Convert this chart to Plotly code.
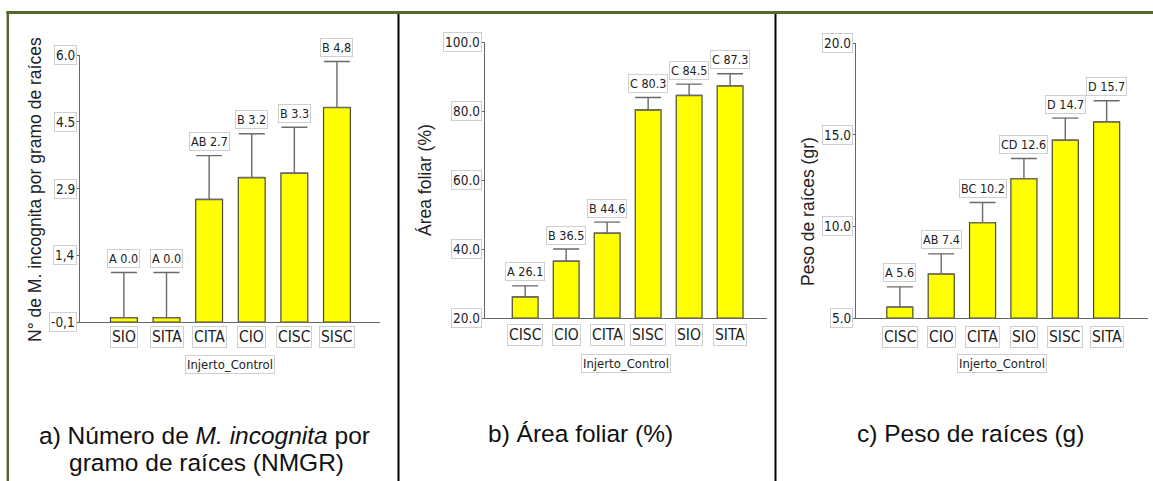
import plotly.graph_objects as go

# ---------------- data ----------------
cats_a = ["SIO", "SITA", "CITA", "CIO", "CISC", "SISC"]
vals_a = [0.0, 0.0, 2.7, 3.2, 3.3, 4.8]
errs_a = [1.03, 1.03, 1.0, 1.0, 1.05, 1.05]
lets_a = ["A", "A", "AB", "B", "B", "B"]
lbls_a = ["0.0", "0.0", "2.7", "3.2", "3.3", "4,8"]
ytick_a = [-0.1, 1.425, 2.95, 4.475, 6.0]
ytxt_a = ["-0,1", "1,4", "2.9", "4.5", "6.0"]

cats_b = ["CISC", "CIO", "CITA", "SISC", "SIO", "SITA"]
vals_b = [26.1, 36.5, 44.6, 80.3, 84.5, 87.3]
errs_b = [3.2, 3.5, 3.2, 3.6, 3.3, 3.5]
lets_b = ["A", "B", "B", "C", "C", "C"]
lbls_b = ["26.1", "36.5", "44.6", "80.3", "84.5", "87.3"]
ytick_b = [20, 40, 60, 80, 100]
ytxt_b = ["20.0", "40.0", "60.0", "80.0", "100.0"]

cats_c = ["CISC", "CIO", "CITA", "SIO", "SISC", "SITA"]
vals_c = [5.6, 7.4, 10.2, 12.6, 14.7, 15.7]
errs_c = [1.1, 1.1, 1.1, 1.1, 1.2, 1.15]
lets_c = ["A", "AB", "BC", "CD", "D", "D"]
lbls_c = ["5.6", "7.4", "10.2", "12.6", "14.7", "15.7"]
ytick_c = [5, 10, 15, 20]
ytxt_c = ["5.0", "10.0", "15.0", "20.0"]

ytitles = ["N° de M. incognita por gramo de raíces", "Área foliar (%)", "Peso de raíces (gr)"]
xtitle = "Injerto_Control"

# ---------------- layout helpers ----------------
W, H = 1153, 481
fx = lambda p: p / W
fy = lambda p: 1 - p / H

NARROW = "DejaVu Sans Condensed, Liberation Sans Narrow, Arial Narrow, sans-serif"
REG = "Liberation Sans, Arial, Helvetica, sans-serif"
AXC = "#666666"
BOXC = "#cfcfcf"
TXT = "#222222"

panels = [
    dict(c=cats_a, v=vals_a, e=errs_a, l=lets_a, t=lbls_a, yt=ytick_a, ytt=ytxt_a,
         x0=80, x1=380, ytop=55, ybot=322, xr=[-1.03, 6.01], yr=[-0.1, 6.0],
         tx=35, ty=190, xtl=337, xtt=364),
    dict(c=cats_b, v=vals_b, e=errs_b, l=lets_b, t=lbls_b, yt=ytick_b, ytt=ytxt_b,
         x0=485, x1=767, ytop=42, ybot=318, xr=[-0.98, 5.9], yr=[20, 100],
         tx=425, ty=180, xtl=335, xtt=363),
    dict(c=cats_c, v=vals_c, e=errs_c, l=lets_c, t=lbls_c, yt=ytick_c, ytt=ytxt_c,
         x0=856, x1=1148, ytop=43, ybot=318, xr=[-1.06, 6.0], yr=[5, 20],
         tx=808, ty=212, xtl=337, xtt=363),
]

fig = go.Figure()
annotations = []
layout_axes = {}

for i, p in enumerate(panels):
    k = "" if i == 0 else str(i + 1)
    xa, ya = "x" + k, "y" + k
    base = p["yr"][0]
    fig.add_trace(go.Bar(
        x=p["c"], y=[v - base for v in p["v"]], base=base,
        xaxis=xa, yaxis=ya, width=0.63,
        marker=dict(color="#FFFF00", line=dict(color="#4a4a30", width=1.2)),
        error_y=dict(type="data", symmetric=False, array=p["e"],
                     arrayminus=[0] * len(p["e"]), color="#6a6a6a",
                     thickness=1.4, width=13),
        showlegend=False, hoverinfo="skip",
    ))
    layout_axes["xaxis" + k] = dict(
        domain=[fx(p["x0"]), fx(p["x1"])], range=p["xr"], anchor=ya,
        type="category", categoryorder="array", categoryarray=p["c"],
        showline=True, linecolor=AXC, linewidth=1, showticklabels=False,
        ticks="", showgrid=False, zeroline=False, fixedrange=True)
    layout_axes["yaxis" + k] = dict(
        domain=[fy(p["ybot"]), fy(p["ytop"])], range=p["yr"], anchor=xa,
        showline=True, linecolor=AXC, linewidth=1, tickvals=p["yt"],
        showticklabels=False, ticks="outside", ticklen=4, tickcolor=AXC,
        showgrid=False, zeroline=False, fixedrange=True)

    # y tick labels (boxed)
    for tv, tt in zip(p["yt"], p["ytt"]):
        annotations.append(dict(
            x=fx(p["x0"] - 3), xref="paper", y=tv, yref=ya, text=tt,
            xanchor="right", yanchor="middle", showarrow=False,
            font=dict(family=NARROW, size=13.5, color=TXT),
            bordercolor=BOXC, borderwidth=1, borderpad=1, bgcolor="white"))
    # x tick labels (boxed)
    for c in p["c"]:
        annotations.append(dict(
            x=c, xref=xa, y=fy(p["xtl"]), yref="paper", text=c,
            xanchor="center", yanchor="middle", showarrow=False,
            font=dict(family=NARROW, size=15.5, color=TXT),
            bordercolor=BOXC, borderwidth=1, borderpad=1, bgcolor="white"))
    # value labels
    for c, v, e, L, t in zip(p["c"], p["v"], p["e"], p["l"], p["t"]):
        annotations.append(dict(
            x=c, xref=xa, y=v + e, yref=ya, text=f"{L} {t}",
            xanchor="center", yanchor="middle", yshift=14, showarrow=False,
            font=dict(family=NARROW, size=12.5, color=TXT),
            bordercolor=BOXC, borderwidth=1, borderpad=1, bgcolor="white"))
    # x-axis title
    annotations.append(dict(
        x=fx((p["x0"] + p["x1"]) / 2), xref="paper", y=fy(p["xtt"]), yref="paper",
        text=xtitle, showarrow=False, xanchor="center", yanchor="middle",
        font=dict(family=NARROW, size=13, color=TXT),
        bordercolor=BOXC, borderwidth=1, borderpad=1, bgcolor="white"))
    # y-axis title
    annotations.append(dict(
        x=fx(p["tx"]), xref="paper", y=fy(p["ty"]), yref="paper",
        text=ytitles[i], textangle=-90, showarrow=False,
        xanchor="center", yanchor="middle",
        font=dict(family=REG, size=17.5, color=TXT)))

# captions
cap_font = dict(family=REG, size=24.5, color="#111")
annotations += [
    dict(x=fx(205), y=fy(435), xref="paper", yref="paper", showarrow=False,
         xanchor="center", yanchor="middle",
         text="a) Número de <i>M. incognita</i> por", font=cap_font),
    dict(x=fx(206), y=fy(462), xref="paper", yref="paper", showarrow=False,
         xanchor="center", yanchor="middle",
         text="gramo de raíces (NMGR)", font=cap_font),
    dict(x=fx(580), y=fy(433), xref="paper", yref="paper", showarrow=False,
         xanchor="center", yanchor="middle",
         text="b) Área foliar (%)", font=cap_font),
    dict(x=fx(970), y=fy(433), xref="paper", yref="paper", showarrow=False,
         xanchor="center", yanchor="middle",
         text="c) Peso de raíces (g)", font=cap_font),
]

OLIVE = "#56692B"
shapes = [
    dict(type="line", xref="paper", yref="paper", x0=fx(6.5), x1=1, y0=fy(12.5), y1=fy(12.5),
         line=dict(color=OLIVE, width=3)),
    dict(type="line", xref="paper", yref="paper", x0=fx(7.8), x1=fx(7.8), y0=fy(11), y1=0,
         line=dict(color=OLIVE, width=2.5)),
    dict(type="line", xref="paper", yref="paper", x0=fx(398.5), x1=fx(398.5), y0=fy(14), y1=0,
         line=dict(color="black", width=2)),
    dict(type="line", xref="paper", yref="paper", x0=fx(775.5), x1=fx(775.5), y0=fy(14), y1=0,
         line=dict(color="black", width=2)),
]

fig.update_layout(
    width=W, height=H, margin=dict(l=0, r=0, t=0, b=0),
    paper_bgcolor="white", plot_bgcolor="white",
    annotations=annotations, shapes=shapes, bargap=0.37,
    **layout_axes,
)

fig.write_html(
    "out.html",
    config={"displayModeBar": False},
    post_script="document.body.style.margin='0';document.body.style.padding='0';",
)
